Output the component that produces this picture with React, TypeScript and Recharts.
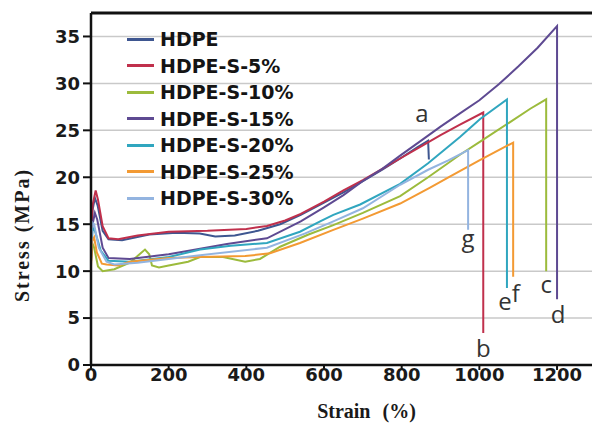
import React from 'react';
import {
  LineChart,
  Line,
  XAxis,
  YAxis,
  CartesianGrid,
  ReferenceLine,
  ReferenceDot,
  Legend,
  Label,
} from 'recharts';

// ---------- data (strain %, stress MPa) ----------
const xTicks = [0, 200, 400, 600, 800, 1000, 1200];
const yTicks = [0, 5, 10, 15, 20, 25, 30, 35];

const hdpe: number[][] = [
  [0, 12], [4, 16.5], [10, 17.8], [17, 17], [30, 14.3], [45, 13.4], [80, 13.3], [150, 13.9],
  [220, 14.1], [280, 14.0], [320, 13.7], [370, 13.8], [430, 14.3], [487, 15.0], [540, 16.0],
  [600, 17.3], [650, 18.4], [700, 19.6], [750, 20.8], [796, 22.0], [840, 23.2], [868, 23.9],
  [870, 21.9],
];
const s5: number[][] = [
  [0, 12.5], [4, 17], [12, 18.6], [18, 17.6], [30, 14.8], [45, 13.5], [70, 13.4], [120, 13.8],
  [200, 14.2], [300, 14.3], [400, 14.5], [453, 14.8], [500, 15.4], [540, 16.1], [600, 17.4],
  [650, 18.6], [700, 19.7], [750, 20.9], [796, 22.0], [850, 23.3], [900, 24.5], [950, 25.6],
  [1010, 26.9], [1010, 3.4],
];
const s10: number[][] = [
  [0, 11], [3, 13], [8, 12.5], [18, 10.5], [30, 10.0], [60, 10.2], [100, 10.9], [125, 11.8],
  [139, 12.3], [150, 11.8], [157, 10.6], [175, 10.4], [200, 10.6], [250, 11.0], [281, 11.5],
  [340, 11.5], [397, 11.0], [435, 11.3], [487, 12.6], [560, 13.9], [624, 14.9], [700, 16.2],
  [796, 18.0], [868, 20.0], [950, 22.4], [1002, 23.8], [1080, 25.9], [1131, 27.3], [1172, 28.3],
  [1172, 10.0],
];
const s15: number[][] = [
  [0, 11], [4, 15], [10, 16.2], [16, 15.5], [30, 12.5], [45, 11.4], [100, 11.3], [200, 11.8],
  [270, 12.3], [350, 12.9], [453, 13.5], [540, 15.3], [600, 16.8], [650, 18.1], [700, 19.6],
  [750, 20.9], [796, 22.3], [850, 23.9], [900, 25.4], [950, 26.8], [1000, 28.2], [1050, 29.9],
  [1100, 31.8], [1150, 33.8], [1200, 36.1], [1200, 7.0],
];
const s20: number[][] = [
  [0, 12], [4, 14.6], [10, 14.3], [25, 12.2], [45, 11.1], [100, 11.0], [200, 11.5], [281, 12.3],
  [360, 12.7], [453, 13.0], [538, 14.2], [590, 15.3], [624, 16.0], [693, 17.1], [796, 19.3],
  [868, 21.5], [950, 24.3], [1002, 26.2], [1071, 28.3], [1071, 8.2],
];
const s25: number[][] = [
  [0, 10.5], [3, 13.2], [8, 13.6], [15, 12], [28, 10.8], [40, 10.7], [70, 10.6], [100, 11.0],
  [200, 11.4], [281, 11.5], [397, 11.6], [461, 11.9], [538, 13.0], [624, 14.4], [700, 15.6],
  [796, 17.2], [873, 18.9], [925, 20.1], [1000, 21.8], [1087, 23.7], [1087, 9.4],
];
const s30: number[][] = [
  [0, 12], [3, 15.2], [8, 15.0], [20, 12.5], [40, 11.0], [60, 10.7], [120, 10.9], [200, 11.3],
  [281, 11.7], [453, 12.5], [550, 14.0], [624, 15.3], [700, 16.7], [796, 19.2], [868, 20.8],
  [920, 21.8], [971, 22.9], [971, 14.4],
];

const seriesNames = ['HDPE', 'HDPE-S-5%', 'HDPE-S-10%', 'HDPE-S-15%', 'HDPE-S-20%', 'HDPE-S-25%', 'HDPE-S-30%'];
const seriesColors = ['#3E5690', '#C0304C', '#9CBB3C', '#5E4A92', '#30A6BF', '#F39A33', '#93B4E0'];
const seriesValues = [hdpe, s5, s10, s15, s20, s25, s30];

const annLetters = ['a', 'b', 'c', 'd', 'e', 'f', 'g'];
const annStrain = [852, 1010, 1172, 1203, 1066, 1094, 971];
const annStress = [25.9, 0.85, 7.7, 4.5, 5.9, 6.7, 12.6];

// ---------- build ----------
const series = seriesNames.map((name, i) => ({
  name,
  color: seriesColors[i],
  data: seriesValues[i].map(([x, y]) => ({ x, y })),
}));

const annotations = annLetters.map((t, i) => ({ t, x: annStrain[i], y: annStress[i] }));

const tickStyle = {
  fontFamily: 'DejaVu Sans',
  fontWeight: 700,
  fontSize: 18,
  fill: '#1a1a1a',
};

const renderLegend = () => (
  <div
    style={{
      fontFamily: 'DejaVu Sans',
      fontWeight: 700,
      fontSize: 19,
      color: '#141414',
    }}
  >
    {series.map((s) => (
      <div key={s.name} style={{ display: 'flex', alignItems: 'center', height: 26.5 }}>
        <div style={{ width: 27, height: 3, background: s.color, marginRight: 6 }} />
        <span style={{ lineHeight: '26.5px', whiteSpace: 'nowrap' }}>{s.name}</span>
      </div>
    ))}
  </div>
);

const YTitle = (props: any) => {
  const vb = props.viewBox || { x: 0, y: 0, width: 0, height: 0 };
  const cx = vb.x + 22;
  const cy = vb.y + vb.height / 2 + 46;
  return (
    <text
      x={cx}
      y={cy}
      transform={`rotate(-90 ${cx} ${cy})`}
      textAnchor="middle"
      dominantBaseline="central"
      fontFamily="Liberation Serif"
      fontWeight={700}
      fontSize={20}
      letterSpacing={2}
      fill="#1a1a1a"
    >
      Stress (MPa)
    </text>
  );
};

const XTitle = (props: any) => {
  const vb = props.viewBox || { x: 0, y: 0, width: 0, height: 0 };
  return (
    <text
      x={vb.x + vb.width / 2 + 25}
      y={vb.y + 53}
      textAnchor="middle"
      fontFamily="Liberation Serif"
      fontWeight={700}
      fontSize={20}
      wordSpacing={7}
      fill="#1a1a1a"
    >
      Strain (%)
    </text>
  );
};

export default function App() {
  return (
    <div style={{ position: 'absolute', left: 0, top: 0, width: 593, height: 425, background: '#fff' }}>
      <LineChart width={593} height={425} margin={{ top: 13, right: 1, bottom: 0, left: 0 }}>
        <CartesianGrid vertical={false} stroke="#c9c9c9" strokeWidth={1.5} />
        <XAxis
          type="number"
          dataKey="x"
          domain={[0, 1290]}
          ticks={xTicks}
          allowDataOverflow
          height={60}
          tick={tickStyle}
          tickSize={5}
          tickMargin={-2}
          axisLine={{ stroke: '#111', strokeWidth: 2.5 }}
          tickLine={{ stroke: '#111', strokeWidth: 2 }}
        >
          <Label content={XTitle} />
        </XAxis>
        <YAxis
          type="number"
          dataKey="y"
          domain={[0, 37.5]}
          ticks={yTicks}
          allowDataOverflow
          width={91}
          tick={tickStyle}
          tickSize={8}
          tickMargin={3}
          axisLine={{ stroke: '#111', strokeWidth: 2.5 }}
          tickLine={{ stroke: '#111', strokeWidth: 2 }}
        >
          <Label content={YTitle} />
        </YAxis>
        <ReferenceLine y={37.5} stroke="#111" strokeWidth={3} />
        {series.map((s) => (
          <Line
            key={s.name}
            name={s.name}
            data={s.data}
            dataKey="y"
            type="linear"
            stroke={s.color}
            strokeWidth={2}
            dot={false}
            activeDot={false}
            isAnimationActive={false}
          />
        ))}
        {annotations.map((a) => (
          <ReferenceDot
            key={a.t}
            x={a.x}
            y={a.y}
            r={1}
            fill="none"
            stroke="none"
            label={(p: any) => {
              const vb = p.viewBox || { x: 0, y: 0, width: 0, height: 0 };
              return (
                <text
                  x={vb.x + vb.width / 2}
                  y={vb.y + vb.height / 2}
                  textAnchor="middle"
                  fontFamily="Open Sans"
                  fontSize={24}
                  fill="#333"
                >
                  {a.t}
                </text>
              );
            }}
          />
        ))}
        <Legend
          layout="vertical"
          align="center"
          verticalAlign="middle"
          content={renderLegend}
          wrapperStyle={{ left: 127, top: 26, width: 'auto', height: 'auto' }}
        />
      </LineChart>
    </div>
  );
}
